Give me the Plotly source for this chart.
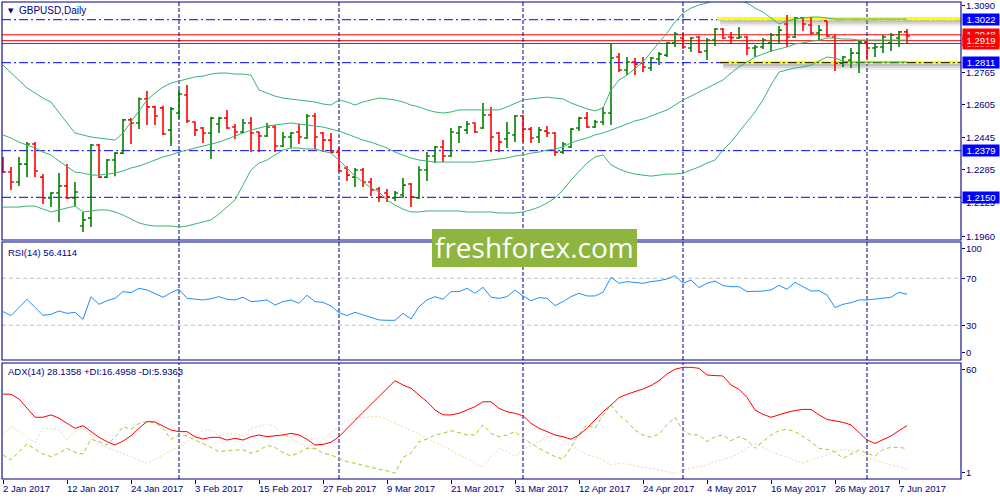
import plotly.graph_objects as go
import pandas as pd

# ---------------- data ----------------
dates = pd.bdate_range("2017-01-02", "2017-06-08")
date_keys = [d.strftime("%Y-%m-%d") for d in dates]

opens = [
    1.2318, 1.2274, 1.2225, 1.2313, 1.2412, 1.2249, 1.2147, 1.2171, 1.2206, 1.2147,
    1.2009, 1.2048, 1.2407, 1.2249, 1.2333, 1.2367, 1.2530, 1.2515, 1.2633, 1.2594,
    1.2589, 1.2480, 1.2564, 1.2652, 1.2520, 1.2490, 1.2466, 1.2510, 1.2539, 1.2495,
    1.2471, 1.2515, 1.2471, 1.2451, 1.2495, 1.2402, 1.2446, 1.2471, 1.2441, 1.2549,
    1.2466, 1.2431, 1.2372, 1.2294, 1.2249, 1.2284, 1.2225, 1.2191, 1.2171, 1.2147,
    1.2161, 1.2215, 1.2147, 1.2284, 1.2353, 1.2397, 1.2353, 1.2466, 1.2480, 1.2515,
    1.2490, 1.2554, 1.2466, 1.2436, 1.2456, 1.2549, 1.2485, 1.2446, 1.2475, 1.2466,
    1.2372, 1.2397, 1.2490, 1.2539, 1.2495, 1.2520, 1.2564, 1.2839, 1.2775, 1.2814,
    1.2809, 1.2785, 1.2829, 1.2848, 1.2908, 1.2932, 1.2883, 1.2937, 1.2868, 1.2922,
    1.2976, 1.2937, 1.2932, 1.2937, 1.2883, 1.2888, 1.2908, 1.2947, 1.3001, 1.2937,
    1.3030, 1.2996, 1.2957, 1.3016, 1.2937, 1.2809, 1.2824, 1.2858, 1.2912, 1.2883,
    1.2888, 1.2908, 1.2932, 1.2962]
highs = [
    1.2348, 1.2299, 1.2348, 1.2421, 1.2421, 1.2264, 1.2176, 1.2269, 1.2313, 1.2225,
    1.2078, 1.2412, 1.2412, 1.2338, 1.2372, 1.2534, 1.2539, 1.2640, 1.2672, 1.2599,
    1.2599, 1.2594, 1.2677, 1.2701, 1.2522, 1.2495, 1.2544, 1.2544, 1.2579, 1.2510,
    1.2534, 1.2544, 1.2473, 1.2515, 1.2505, 1.2471, 1.2471, 1.2510, 1.2559, 1.2564,
    1.2471, 1.2466, 1.2397, 1.2303, 1.2294, 1.2294, 1.2245, 1.2201, 1.2191, 1.2181,
    1.2245, 1.2220, 1.2303, 1.2372, 1.2402, 1.2431, 1.2490, 1.2500, 1.2525, 1.2517,
    1.2613, 1.2594, 1.2471, 1.2520, 1.2554, 1.2554, 1.2495, 1.2495, 1.2500, 1.2471,
    1.2421, 1.2490, 1.2544, 1.2569, 1.2530, 1.2594, 1.2903, 1.2858, 1.2839, 1.2834,
    1.2839, 1.2839, 1.2863, 1.2912, 1.2962, 1.2957, 1.2937, 1.2942, 1.2932, 1.2981,
    1.2981, 1.2962, 1.2986, 1.2942, 1.2898, 1.2932, 1.2957, 1.2991, 1.3045, 1.3035,
    1.3035, 1.3035, 1.2996, 1.3016, 1.2947, 1.2844, 1.2883, 1.2922, 1.2927, 1.2908,
    1.2947, 1.2957, 1.2966, 1.2976]
lows = [
    1.2269, 1.2186, 1.2206, 1.2249, 1.2249, 1.2117, 1.2102, 1.2029, 1.2142, 1.2107,
    1.1980, 1.2004, 1.2245, 1.2245, 1.2254, 1.2363, 1.2412, 1.2485, 1.2505, 1.2505,
    1.2456, 1.2402, 1.2534, 1.2515, 1.2451, 1.2417, 1.2338, 1.2466, 1.2485, 1.2436,
    1.2466, 1.2372, 1.2372, 1.2446, 1.2372, 1.2397, 1.2392, 1.2412, 1.2436, 1.2387,
    1.2372, 1.2367, 1.2274, 1.2230, 1.2201, 1.2201, 1.2156, 1.2127, 1.2127, 1.2132,
    1.2147, 1.2102, 1.2142, 1.2230, 1.2318, 1.2323, 1.2348, 1.2417, 1.2461, 1.2466,
    1.2485, 1.2372, 1.2372, 1.2392, 1.2421, 1.2421, 1.2417, 1.2417, 1.2446, 1.2353,
    1.2363, 1.2392, 1.2475, 1.2490, 1.2490, 1.2505, 1.2505, 1.2765, 1.2750, 1.2750,
    1.2765, 1.2770, 1.2799, 1.2839, 1.2888, 1.2878, 1.2863, 1.2858, 1.2824, 1.2893,
    1.2927, 1.2903, 1.2927, 1.2848, 1.2839, 1.2878, 1.2863, 1.2903, 1.2888, 1.2932,
    1.2966, 1.2947, 1.2922, 1.2937, 1.2770, 1.2790, 1.2785, 1.2760, 1.2829, 1.2839,
    1.2858, 1.2868, 1.2888, 1.2903]
closes = [
    1.2274, 1.2225, 1.2313, 1.2412, 1.2279, 1.2147, 1.2171, 1.2206, 1.2147, 1.2176,
    1.2039, 1.2407, 1.2249, 1.2333, 1.2367, 1.2530, 1.2515, 1.2633, 1.2594, 1.2549,
    1.2461, 1.2584, 1.2657, 1.2525, 1.2480, 1.2466, 1.2539, 1.2539, 1.2490, 1.2471,
    1.2515, 1.2466, 1.2451, 1.2495, 1.2402, 1.2446, 1.2466, 1.2446, 1.2549, 1.2446,
    1.2431, 1.2372, 1.2279, 1.2259, 1.2284, 1.2225, 1.2186, 1.2152, 1.2152, 1.2171,
    1.2210, 1.2152, 1.2284, 1.2353, 1.2397, 1.2353, 1.2471, 1.2495, 1.2510, 1.2471,
    1.2554, 1.2446, 1.2421, 1.2466, 1.2549, 1.2485, 1.2441, 1.2480, 1.2466, 1.2372,
    1.2412, 1.2485, 1.2539, 1.2495, 1.2520, 1.2564, 1.2834, 1.2775, 1.2814, 1.2804,
    1.2790, 1.2834, 1.2853, 1.2908, 1.2952, 1.2888, 1.2932, 1.2863, 1.2922, 1.2976,
    1.2932, 1.2934, 1.2937, 1.2883, 1.2888, 1.2922, 1.2947, 1.2971, 1.2937, 1.3030,
    1.3001, 1.2957, 1.2971, 1.2942, 1.2809, 1.2839, 1.2858, 1.2912, 1.2883, 1.2888,
    1.2937, 1.2947, 1.2962, 1.2942]

bb_upper = [
    1.2799, 1.2760, 1.2726, 1.2687, 1.2662, 1.2637, 1.2618, 1.2564, 1.2515, 1.2466,
    1.2456, 1.2446, 1.2441, 1.2436, 1.2431, 1.2466, 1.2520, 1.2574, 1.2628, 1.2662,
    1.2691, 1.2711, 1.2721, 1.2731, 1.2741, 1.2745, 1.2755, 1.2760, 1.2760, 1.2755,
    1.2755, 1.2750, 1.2677, 1.2662, 1.2647, 1.2637, 1.2633, 1.2628, 1.2623, 1.2618,
    1.2608, 1.2603, 1.2628, 1.2618, 1.2603, 1.2618, 1.2628, 1.2637, 1.2633, 1.2628,
    1.2618, 1.2603, 1.2594, 1.2579, 1.2569, 1.2564, 1.2569, 1.2579, 1.2579, 1.2579,
    1.2579, 1.2579, 1.2579, 1.2594, 1.2613, 1.2628, 1.2633, 1.2637, 1.2642, 1.2637,
    1.2633, 1.2613, 1.2599, 1.2584, 1.2574, 1.2589, 1.2677, 1.2726, 1.2750, 1.2780,
    1.2814, 1.2863, 1.2908, 1.2957, 1.3011, 1.3055, 1.3079, 1.3094, 1.3104, 1.3119,
    1.3133, 1.3133, 1.3119, 1.3104, 1.3079, 1.3060, 1.3030, 1.3001, 1.3016, 1.3025,
    1.3030, 1.3035, 1.3035, 1.3030, 1.3025, 1.3025, 1.3025, 1.3025, 1.3025, 1.3025,
    1.3025, 1.3025, 1.3025, 1.3025]
bb_mid = [
    1.2456, 1.2441, 1.2421, 1.2407, 1.2392, 1.2372, 1.2358, 1.2328, 1.2303, 1.2274,
    1.2269, 1.2259, 1.2259, 1.2264, 1.2269, 1.2279, 1.2294, 1.2303, 1.2318, 1.2333,
    1.2348, 1.2358, 1.2372, 1.2382, 1.2392, 1.2402, 1.2412, 1.2421, 1.2436, 1.2451,
    1.2466, 1.2480, 1.2490, 1.2500, 1.2505, 1.2510, 1.2515, 1.2510, 1.2505, 1.2500,
    1.2495, 1.2485, 1.2475, 1.2461, 1.2446, 1.2431, 1.2421, 1.2407, 1.2392, 1.2372,
    1.2358, 1.2343, 1.2333, 1.2328, 1.2323, 1.2323, 1.2323, 1.2323, 1.2323, 1.2323,
    1.2328, 1.2333, 1.2338, 1.2343, 1.2353, 1.2358, 1.2367, 1.2372, 1.2382, 1.2387,
    1.2397, 1.2417, 1.2431, 1.2441, 1.2456, 1.2466, 1.2480, 1.2495, 1.2510, 1.2525,
    1.2534, 1.2549, 1.2564, 1.2579, 1.2603, 1.2628, 1.2647, 1.2667, 1.2687, 1.2706,
    1.2726, 1.2760, 1.2790, 1.2814, 1.2839, 1.2853, 1.2868, 1.2878, 1.2888, 1.2903,
    1.2908, 1.2917, 1.2922, 1.2932, 1.2932, 1.2927, 1.2927, 1.2922, 1.2922, 1.2922,
    1.2922, 1.2922, 1.2922, 1.2922]
bb_lower = [
    1.2102, 1.2102, 1.2102, 1.2107, 1.2107, 1.2092, 1.2078, 1.2088, 1.2097, 1.2107,
    1.2078, 1.2083, 1.2088, 1.2088, 1.2078, 1.2063, 1.2043, 1.2024, 1.2014, 1.2009,
    1.2009, 1.2009, 1.2004, 1.2009, 1.2019, 1.2029, 1.2039, 1.2068, 1.2102, 1.2137,
    1.2210, 1.2284, 1.2318, 1.2333, 1.2358, 1.2382, 1.2392, 1.2392, 1.2387, 1.2387,
    1.2377, 1.2367, 1.2333, 1.2294, 1.2254, 1.2225, 1.2196, 1.2176, 1.2137, 1.2112,
    1.2092, 1.2078, 1.2078, 1.2083, 1.2083, 1.2083, 1.2083, 1.2083, 1.2078, 1.2078,
    1.2078, 1.2078, 1.2073, 1.2073, 1.2073, 1.2078, 1.2088, 1.2102, 1.2122, 1.2147,
    1.2186, 1.2235, 1.2274, 1.2318, 1.2348, 1.2358, 1.2309, 1.2289, 1.2274, 1.2264,
    1.2259, 1.2254, 1.2259, 1.2264, 1.2264, 1.2269, 1.2284, 1.2299, 1.2318, 1.2333,
    1.2382, 1.2421, 1.2471, 1.2520, 1.2569, 1.2628, 1.2701, 1.2765, 1.2775, 1.2785,
    1.2790, 1.2799, 1.2819, 1.2839, 1.2834, 1.2819, 1.2814, 1.2814, 1.2814, 1.2814,
    1.2814, 1.2814, 1.2814, 1.2814]

rsi = [
    41.6, 38.2, 45.0, 52.1, 45.2, 38.4, 39.3, 42.1, 40.1, 41.0,
    35.0, 54.3, 47.8, 50.9, 52.9, 58.6, 57.7, 61.4, 60.0, 57.2,
    53.8, 57.7, 60.6, 52.9, 52.1, 51.5, 52.6, 54.3, 52.1, 51.5,
    53.8, 50.1, 50.6, 51.5, 47.2, 50.1, 51.5, 48.7, 55.5, 50.1,
    49.5, 46.4, 40.7, 38.2, 41.0, 38.7, 36.5, 34.5, 34.2, 34.2,
    40.1, 35.3, 45.8, 51.5, 54.3, 52.1, 58.6, 58.6, 61.4, 57.2,
    62.3, 53.8, 52.9, 54.3, 60.0, 54.9, 50.9, 53.5, 52.9, 46.7,
    50.1, 54.3, 57.2, 54.9, 54.9, 58.0, 70.8, 65.7, 67.1, 66.5,
    65.7, 67.1, 67.9, 69.4, 72.2, 65.7, 68.5, 62.0, 65.7, 67.7,
    63.7, 62.8, 62.8, 58.6, 58.6, 59.1, 60.0, 64.0, 60.6, 66.5,
    62.8, 59.1, 59.4, 55.7, 45.0, 47.8, 49.2, 51.5, 51.5, 52.1,
    52.9, 53.8, 58.0, 56.4114]

adx = [
    44.2, 44.1, 41.7, 36.9, 32.4, 32.4, 33.6, 31.9, 29.3, 26.8,
    28.1, 25.1, 22.2, 20.0, 18.3, 20.3, 23.0, 26.8, 30.2, 30.0,
    28.1, 25.9, 25.1, 25.1, 22.5, 21.3, 22.2, 22.2, 20.8, 21.7,
    20.8, 22.5, 23.4, 22.5, 23.0, 23.4, 24.2, 23.4, 21.2, 18.3,
    18.6, 19.7, 22.5, 26.9, 30.8, 34.9, 39.0, 43.0, 46.9, 51.0,
    48.8, 47.1, 43.7, 40.3, 36.1, 33.6, 33.6, 34.4, 36.1, 37.8,
    40.3, 40.3, 36.9, 35.2, 34.4, 33.2, 29.3, 26.8, 25.1, 23.4,
    22.5, 21.2, 23.4, 26.8, 31.0, 35.2, 38.6, 42.4, 44.1, 45.4,
    46.8, 48.5, 51.0, 54.4, 56.8, 57.8, 57.8, 57.3, 53.9, 53.6,
    53.4, 48.8, 46.6, 42.5, 36.1, 33.9, 32.4, 33.6, 34.9, 35.8,
    36.4, 36.4, 33.6, 31.3, 30.7, 29.8, 28.5, 24.6, 20.8, 19.1,
    21.2, 22.9, 25.6, 28.1358]
plus_di = [
    13.2, 10.7, 14.9, 18.8, 16.1, 13.7, 12.4, 14.1, 16.6, 14.6,
    13.7, 21.2, 20.0, 18.3, 22.2, 27.6, 26.3, 29.3, 30.2, 29.7,
    26.8, 21.2, 23.4, 22.9, 20.8, 19.1, 17.1, 14.9, 15.4, 15.8,
    15.8, 14.1, 15.4, 18.1, 17.1, 14.4, 12.7, 14.4, 16.6, 16.6,
    14.1, 13.2, 11.5, 9.8, 9.0, 8.1, 6.9, 5.9, 5.2, 3.9,
    12.0, 14.1, 20.0, 21.3, 23.4, 24.2, 25.6, 24.6, 23.4, 23.4,
    28.5, 24.2, 22.5, 23.4, 25.1, 21.7, 19.1, 16.6, 14.4, 12.4,
    11.0, 17.1, 23.9, 28.5, 26.8, 33.6, 38.6, 33.6, 30.2, 25.9,
    23.4, 22.2, 23.9, 28.5, 32.4, 25.6, 23.4, 23.4, 20.0, 22.5,
    23.4, 20.5, 22.5, 20.8, 16.6, 20.0, 23.4, 25.6, 26.3, 25.1,
    22.5, 20.0, 16.6, 16.1, 14.9, 11.5, 13.7, 15.8, 14.1, 12.7,
    16.1, 17.1, 17.1, 16.4958]
minus_di = [
    23.4, 27.6, 25.1, 22.5, 19.5, 26.8, 26.8, 25.9, 20.8, 25.1,
    27.3, 23.4, 18.6, 17.1, 15.4, 14.1, 12.4, 10.7, 9.0, 11.0,
    13.2, 15.4, 17.8, 20.0, 22.5, 25.6, 25.9, 22.9, 24.2, 23.9,
    22.9, 26.8, 27.6, 29.0, 27.6, 23.4, 21.7, 19.5, 17.1, 16.1,
    20.8, 24.6, 27.6, 31.0, 31.9, 32.4, 32.7, 33.0, 31.3, 29.3,
    27.6, 25.6, 23.9, 21.7, 19.5, 17.8, 15.8, 13.2, 11.5, 9.0,
    6.9, 12.4, 16.6, 14.9, 12.4, 15.8, 18.3, 20.0, 22.5, 23.4,
    20.8, 18.3, 15.8, 13.2, 12.4, 10.7, 8.1, 9.0, 8.6, 7.6,
    6.9, 6.4, 5.6, 4.7, 3.9, 5.6, 6.4, 7.3, 8.1, 9.8,
    11.0, 12.0, 14.1, 16.6, 19.1, 17.1, 14.9, 13.2, 12.4, 10.3,
    9.0, 10.7, 12.0, 13.2, 14.9, 16.1, 15.4, 13.7, 12.0, 10.7,
    9.3, 8.1, 7.3, 5.9363]

price_tick_labels = [1.3090, 1.2765, 1.2605, 1.2445, 1.2285, 1.2125, 1.1960]
blue_levels = [1.3022, 1.2811, 1.2379, 1.2150]
red_levels = [1.2948, 1.2905, 1.2919]
rsi_levels = [70, 30]
zone_prices = [1.3027, 1.2812]
zone_start_bar = [89.25, 89.6]
label_every = 8

# ---------------- styling / layout constants ----------------
NAVY = "#000080"
FONT = "Liberation Sans, Arial, sans-serif"
FS = 9.5
XR = [-0.125, 119.75]
DOM_MAIN = [0.5010, 1.0]
DOM_RSI = [0.2495, 0.4969]
DOM_ADX = [0.0, 0.2432]
DASHDOT = "9px,3px,2px,3px"

fig = go.Figure()

for band in (bb_upper, bb_mid, bb_lower):
    fig.add_trace(go.Scatter(x=date_keys, y=band, mode="lines", xaxis="x", yaxis="y",
                             line=dict(color="#3CB371", width=1), hoverinfo="skip"))
fig.add_trace(go.Ohlc(x=date_keys, open=opens, high=highs, low=lows, close=closes,
                      xaxis="x", yaxis="y", tickwidth=0.36,
                      increasing=dict(line=dict(color="#008000", width=1.6)),
                      decreasing=dict(line=dict(color="#FF0000", width=1.6)),
                      hoverinfo="skip"))
fig.add_trace(go.Scatter(x=date_keys, y=rsi, mode="lines", xaxis="x", yaxis="y2",
                         line=dict(color="#1E90FF", width=1), hoverinfo="skip"))
fig.add_trace(go.Scatter(x=date_keys, y=minus_di, mode="lines", xaxis="x", yaxis="y3",
                         line=dict(color="#F0D8A8", width=1, dash="2px,2px"), hoverinfo="skip"))
fig.add_trace(go.Scatter(x=date_keys, y=plus_di, mode="lines", xaxis="x", yaxis="y3",
                         line=dict(color="#9ACD32", width=1, dash="4px,3px"), hoverinfo="skip"))
fig.add_trace(go.Scatter(x=date_keys, y=adx, mode="lines", xaxis="x", yaxis="y3",
                         line=dict(color="#FF0000", width=1), hoverinfo="skip"))

shapes = []
for zp, zs in zip(zone_prices, zone_start_bar):
    for (a, b, op) in [(-1.5, -3.5, 0.45), (-3.5, -5.5, 0.28), (-5.5, -7.5, 0.12)]:
        shapes.append(dict(type="rect", xref="x", yref="y", x0=zs + 0.4, x1=XR[1],
                           ysizemode="pixel", yanchor=zp, y0=a, y1=b,
                           fillcolor="#707070", opacity=op, line=dict(width=0), layer="below"))
    shapes.append(dict(type="rect", xref="x", yref="y", x0=zs, x1=XR[1],
                       ysizemode="pixel", yanchor=zp, y0=-1.6, y1=1.6,
                       fillcolor="#FFFF00", line=dict(width=0), layer="below"))
for lv in blue_levels:
    shapes.append(dict(type="line", xref="paper", yref="y", x0=0, x1=1, y0=lv, y1=lv,
                       line=dict(color="#0000FF", width=1, dash=DASHDOT), layer="below"))
shapes.append(dict(type="line", xref="x", yref="y", x0=zone_start_bar[1], x1=XR[1],
                   y0=blue_levels[1], y1=blue_levels[1],
                   line=dict(color="#000000", width=1, dash=DASHDOT), layer="below"))
for lv in red_levels:
    shapes.append(dict(type="line", xref="paper", yref="y", x0=0, x1=1, y0=lv, y1=lv,
                       line=dict(color="#FF0000", width=1), layer="below"))
for lv in rsi_levels:
    shapes.append(dict(type="line", xref="paper", yref="y2", x0=0, x1=1, y0=lv, y1=lv,
                       line=dict(color="#C0C0C0", width=1, dash="4px,3px"), layer="below"))
month_starts = [i for i in range(1, len(dates)) if dates[i].month != dates[i - 1].month]
for i in month_starts:
    for yr in ("y domain", "y2 domain", "y3 domain"):
        shapes.append(dict(type="line", xref="x", yref=yr, x0=date_keys[i], x1=date_keys[i],
                           y0=0, y1=1, line=dict(color=NAVY, width=1, dash="4px,2px"),
                           layer="below"))
for dom in (DOM_MAIN, DOM_RSI, DOM_ADX):
    shapes.append(dict(type="rect", xref="paper", yref="paper", x0=0, x1=1,
                       y0=dom[0], y1=dom[1], line=dict(color=NAVY, width=1.1),
                       fillcolor="rgba(0,0,0,0)", layer="above"))
shapes.append(dict(type="rect", xref="paper", yref="paper",
                   x0=(432 - 2) / 959, x1=(637 - 2) / 959,
                   y0=(479 - 267) / 477, y1=(479 - 229) / 477,
                   fillcolor="#8DB53F", line=dict(width=0), layer="above"))

ann = []
lab_font = dict(family=FONT, size=FS, color=NAVY)
for v in price_tick_labels:
    ann.append(dict(x=1, xref="paper", y=v, yref="y", xanchor="left", yanchor="middle",
                    xshift=4, text=f"{v:.4f}", showarrow=False, font=lab_font, borderpad=0))
for v in blue_levels:
    ann.append(dict(x=1, xref="paper", y=v, yref="y", xanchor="left", yanchor="middle",
                    xshift=1, text=f"{v:.4f}", showarrow=False, width=36, align="center",
                    bgcolor="#0000FF", borderpad=0,
                    font=dict(family=FONT, size=FS, color="white")))
for v in red_levels:
    ann.append(dict(x=1, xref="paper", y=v, yref="y", xanchor="left", yanchor="middle",
                    xshift=1, text=f"{v:.4f}", showarrow=False, width=36, align="center",
                    bgcolor="#FF0000", borderpad=0,
                    font=dict(family=FONT, size=FS, color="white")))
for txt, val in [("100", 94.9), ("70", 70), ("30", 30), ("0", 6.4)]:
    ann.append(dict(x=1, xref="paper", y=val, yref="y2", xanchor="left", yanchor="middle",
                    xshift=4, text=txt, showarrow=False, font=lab_font, borderpad=0))
for txt, val in [("60", 56.9), ("1", 4.2)]:
    ann.append(dict(x=1, xref="paper", y=val, yref="y3", xanchor="left", yanchor="middle",
                    xshift=4, text=txt, showarrow=False, font=lab_font, borderpad=0))
label_idx = list(range(0, len(dates), label_every))
for i in label_idx:
    d = dates[i]
    ann.append(dict(x=date_keys[i], xref="x", y=0, yref="paper", xanchor="left", yanchor="top",
                    xshift=-1, yshift=-3, text=f"{d.day} {d.strftime('%b %Y')}",
                    showarrow=False, font=lab_font, borderpad=0))
ann.append(dict(x=0, xref="paper", y=(479 - 11) / 477, yref="paper", xanchor="left",
                yanchor="middle", xshift=5, text="▼", showarrow=False, borderpad=0,
                font=dict(family="DejaVu Sans", size=7, color=NAVY)))
ann.append(dict(x=0, xref="paper", y=(479 - 11) / 477, yref="paper", xanchor="left",
                yanchor="middle", xshift=16, text="GBPUSD,Daily", showarrow=False, borderpad=0,
                font=dict(family=FONT, size=10, color=NAVY)))
ann.append(dict(x=0, xref="paper", y=(479 - 252) / 477, yref="paper", xanchor="left",
                yanchor="middle", xshift=5, text=f"RSI(14) {rsi[-1]:.4f}", showarrow=False,
                borderpad=0, font=lab_font))
ann.append(dict(x=0, xref="paper", y=(479 - 371) / 477, yref="paper", xanchor="left",
                yanchor="middle", xshift=5,
                text=f"ADX(14) {adx[-1]:.4f} +DI:{plus_di[-1]:.4f} -DI:{minus_di[-1]:.4f}",
                showarrow=False, borderpad=0, font=lab_font))
ann.append(dict(x=(534.5 - 2) / 959, xref="paper", y=(479 - 247) / 477, yref="paper",
                xanchor="center", yanchor="middle", text="freshforex.com", showarrow=False,
                font=dict(family="Open Sans", size=28, color="white")))

axis_common = dict(showgrid=False, zeroline=False, showticklabels=False, fixedrange=True,
                   ticks="outside", tickcolor=NAVY, showline=False)
fig.update_layout(
    width=1000, height=500,
    margin=dict(l=2, r=39, t=2, b=21),
    paper_bgcolor="white", plot_bgcolor="white",
    showlegend=False,
    xaxis=dict(type="category", range=XR, domain=[0, 1], anchor="y3",
               tickvals=[date_keys[i] for i in label_idx], ticklen=4,
               rangeslider=dict(visible=False), **axis_common),
    yaxis=dict(domain=DOM_MAIN, range=[1.19403, 1.31089], side="right", anchor="x",
               tickvals=price_tick_labels, ticklen=3, **axis_common),
    yaxis2=dict(domain=DOM_RSI, range=[0.43, 100.85], side="right", anchor="x",
                tickvals=[94.9, 70, 30, 6.4], ticklen=3, **axis_common),
    yaxis3=dict(domain=DOM_ADX, range=[1, 60], side="right", anchor="x",
                tickvals=[56.9, 4.2], ticklen=3, **axis_common),
    shapes=shapes,
    annotations=ann,
)

fig.write_html("out.html", config={"displayModeBar": False, "staticPlot": True},
               post_script="document.body.style.margin='0';")
